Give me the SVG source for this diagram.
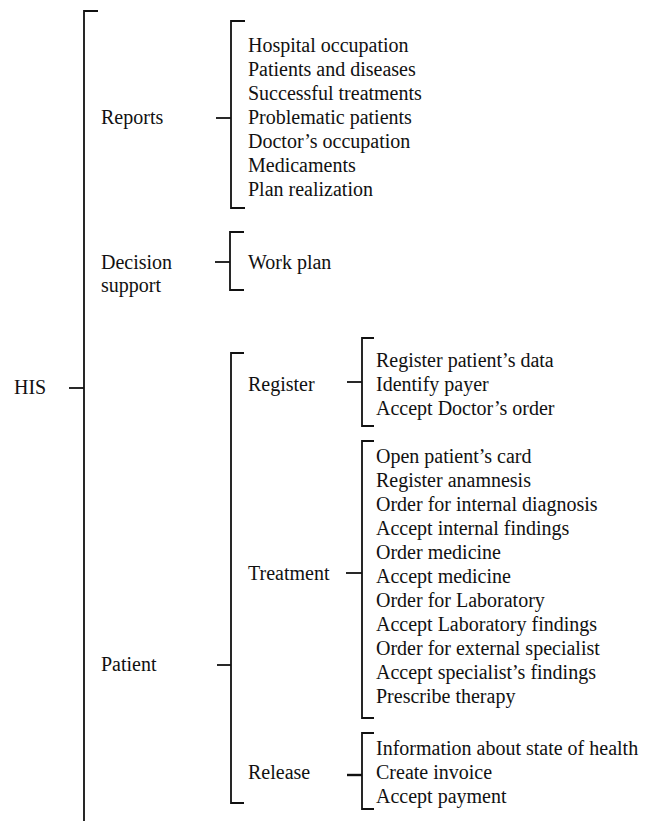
<svg xmlns="http://www.w3.org/2000/svg" width="648" height="821" viewBox="0 0 648 821">
<style>
text{font-family:"Liberation Serif","Times New Roman",serif;font-size:20px;fill:#111}
.br{fill:none;stroke:#111;stroke-width:1.8}
.tk{stroke:#111;stroke-width:1.8}
</style>
<rect width="648" height="821" fill="#fff"/>
<g id="connectors">
<path class="br" d="M98,11 H84 V821"/>
<line class="tk" x1="69" y1="388" x2="84" y2="388"/>
<path class="br" d="M245,21 H231 V208 H245"/>
<line class="tk" x1="216" y1="118" x2="231" y2="118"/>
<path class="br" d="M244,232 H230 V290 H244"/>
<line class="tk" x1="215" y1="262" x2="230" y2="262"/>
<path class="br" d="M244,353 H231 V803 H244"/>
<line class="tk" x1="217" y1="665" x2="231" y2="665"/>
<path class="br" d="M374,338 H362 V426 H374"/>
<line class="tk" x1="347" y1="382" x2="362" y2="382"/>
<path class="br" d="M374,441 H362 V718 H374"/>
<line class="tk" x1="346" y1="573" x2="362" y2="573"/>
<path class="br" d="M374,733 H362 V809 H374"/>
<line class="tk" x1="347" y1="775" x2="362" y2="775" style="stroke-width:2.4"/>
</g>
<g id="his"><text x="14" y="394">HIS</text></g>
<g id="reports"><text x="101" y="124">Reports</text></g>
<g id="reports-items">
<text x="248" y="52">Hospital occupation</text>
<text x="248" y="76">Patients and diseases</text>
<text x="248" y="100">Successful treatments</text>
<text x="248" y="124">Problematic patients</text>
<text x="248" y="148">Doctor’s occupation</text>
<text x="248" y="172">Medicaments</text>
<text x="248" y="196">Plan realization</text>
</g>
<g id="decision-support"><text x="101" y="269">Decision</text><text x="101" y="292">support</text></g>
<g id="work-plan"><text x="248" y="269">Work plan</text></g>
<g id="patient"><text x="101" y="671">Patient</text></g>
<g id="register"><text x="248" y="391">Register</text></g>
<g id="register-items">
<text x="376" y="367">Register patient’s data</text>
<text x="376" y="391">Identify payer</text>
<text x="376" y="415">Accept Doctor’s order</text>
</g>
<g id="treatment"><text x="248" y="580">Treatment</text></g>
<g id="treatment-items">
<text x="376" y="463">Open patient’s card</text>
<text x="376" y="487">Register anamnesis</text>
<text x="376" y="511">Order for internal diagnosis</text>
<text x="376" y="535">Accept internal findings</text>
<text x="376" y="559">Order medicine</text>
<text x="376" y="583">Accept medicine</text>
<text x="376" y="607">Order for Laboratory</text>
<text x="376" y="631">Accept Laboratory findings</text>
<text x="376" y="655">Order for external specialist</text>
<text x="376" y="679">Accept specialist’s findings</text>
<text x="376" y="703">Prescribe therapy</text>
</g>
<g id="release"><text x="248" y="779">Release</text></g>
<g id="release-items">
<text x="376" y="755">Information about state of health</text>
<text x="376" y="779">Create invoice</text>
<text x="376" y="803">Accept payment</text>
</g>
</svg>
